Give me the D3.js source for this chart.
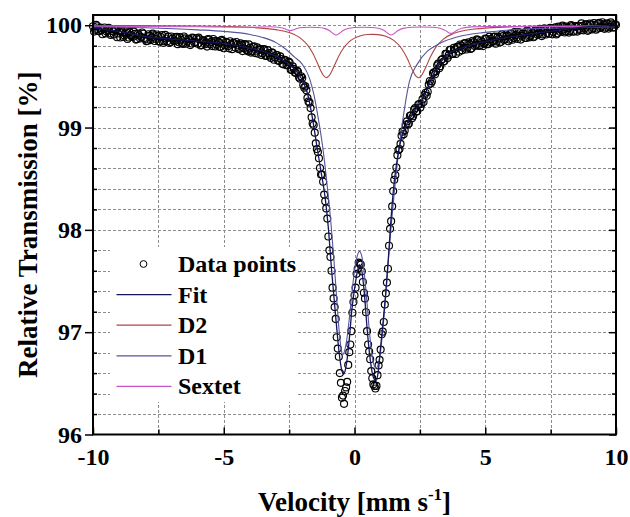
<!DOCTYPE html>
<html><head><meta charset="utf-8">
<script src="https://cdn.jsdelivr.net/npm/d3@7"></script>
<style>body{margin:0;background:#fff}svg{display:block}</style>
</head><body>
<svg id="chart" width="630" height="517"></svg>
<script>
// ---- data ----
// two interleaved channel sets of the unfolded spectrum
const velocityStartA = -10;
const velocityStartB = -9.96;
const velocityStep = 0.08;
const transmissionA = [
99.99,99.956,99.99,99.94,99.954,99.965,99.92,99.95,99.92,99.96,
99.91,99.955,99.92,99.88,99.93,99.90,99.93,99.88,99.905,99.885,
99.916,99.864,99.902,99.885,99.917,99.865,99.848,99.896,99.879,99.902,
99.865,99.893,99.841,99.904,99.847,99.87,99.888,99.836,99.869,99.843,
99.886,99.834,99.858,99.817,99.872,99.84,99.863,99.821,99.873,99.837,
99.82,99.863,99.806,99.844,99.832,99.865,99.813,99.796,99.844,99.812,
99.835,99.788,99.846,99.804,99.831,99.774,99.812,99.829,99.782,99.809,
99.769,99.809,99.774,99.81,99.745,99.78,99.745,99.795,99.751,99.721,
99.766,99.726,99.764,99.701,99.728,99.68,99.727,99.684,
99.709,99.652,99.67,99.618,99.656,99.612,99.635,99.562,99.573,99.534,
99.545,99.477,99.485,99.39,99.365,99.255,99.19,99.04,98.95,98.79,
98.70,98.54,98.47,98.28,98.11,97.80,97.60,97.33,97.13,96.84,
96.60,96.36,96.30,96.46,96.68,96.88,97.19,97.36,97.57,97.68,
97.66,97.49,97.33,97.01,96.81,96.62,96.49,96.45,96.58,96.73,
96.98,97.10,97.38,97.62,98.01,98.23,98.49,98.61,98.78,98.84,
98.96,98.97,99.06,99.04,99.12,99.11,99.19,99.16,99.23,99.23,
99.25,99.34,99.35,99.455,99.45,99.54,99.55,99.625,99.60,99.67,
99.65,99.72,99.705,99.76,99.72,99.765,99.79,99.742,99.801,99.78,
99.825,99.78,99.815,99.775,99.835,99.81,99.854,99.804,99.838,99.818,
99.867,99.816,99.865,99.844,99.888,99.841,99.87,99.839,99.893,99.862,
99.901,99.86,99.918,99.875,99.903,99.866,99.924,99.896,99.919,99.876,
99.939,99.892,99.926,99.89,99.949,99.918,99.952,99.91,99.968,99.925,
99.917,99.965,99.937,99.979,99.921,99.968,99.95,99.982,99.94,99.972,
99.944,99.992,99.939,99.982,99.994,99.951,99.994,99.971,100.009,99.956,
100.008,99.97,100.001,99.967,100.023,99.984,100.01,99.976,100.017,99.983,100.008,99.979,100.005
];
const transmissionB = [
99.938,100.004,99.945,99.976,99.912,99.978,99.939,99.974,99.905,99.941,
99.957,99.883,99.939,99.949,99.885,99.917,99.865,99.933,99.89,99.938,
99.86,99.918,99.871,99.929,99.876,99.844,99.912,99.855,99.918,99.846,
99.909,99.842,99.885,99.828,99.906,99.844,99.827,99.89,99.848,99.882,
99.815,99.884,99.827,99.89,99.819,99.867,99.806,99.879,99.828,99.871,
99.879,99.802,99.855,99.813,99.791,99.859,99.837,99.865,99.793,99.846,
99.789,99.857,99.775,99.838,99.795,99.843,99.766,99.823,99.836,99.767,
99.822,99.747,99.817,99.758,99.813,99.733,99.788,99.728,99.784,99.759,
99.709,99.768,99.70,99.757,99.694,99.736,99.663,99.709,
99.653,99.696,99.624,99.662,99.609,99.644,99.566,99.598,99.539,99.557,
99.489,99.501,99.415,99.403,99.29,99.243,99.10,99.025,98.845,98.76,
98.605,98.54,98.345,98.21,97.935,97.735,97.435,97.245,96.95,96.76,
96.505,96.38,96.425,96.515,96.805,97.01,97.295,97.435,97.62,97.67,
97.595,97.385,97.195,96.88,96.735,96.55,96.475,96.475,96.675,96.83,
97.005,97.27,97.485,97.845,98.085,98.38,98.535,98.73,98.79,98.92,
98.935,99.03,99.03,99.115,99.09,99.175,99.155,99.225,99.195,99.275,
99.32,99.31,99.42,99.43,99.53,99.52,99.608,99.58,99.66,99.643,
99.72,99.68,99.76,99.718,99.78,99.72,99.789,99.812,99.756,99.823,
99.763,99.833,99.768,99.848,99.798,99.862,99.797,99.851,99.796,99.87,
99.814,99.888,99.832,99.886,99.82,99.888,99.832,99.911,99.855,99.894,
99.843,99.917,99.859,99.932,99.88,99.933,99.86,99.923,99.875,99.948,
99.881,99.954,99.883,99.952,99.906,99.965,99.894,99.967,99.909,99.961,
99.974,99.911,99.968,99.91,99.987,99.934,99.996,99.929,99.986,99.928,
100.001,99.938,99.991,99.938,99.965,100.018,99.95,100.008,99.945,100.017,
99.959,100.02,99.956,100.017,99.973,100.029,99.965,100.016,99.967,100.028,99.978,100.009
];

const fitVelocity = [-10,-9,-8,-7,-6,-5,-4.5,-4,-3.5,-3,-2.6,-2.2,-2.0,-1.8,-1.6,-1.44,-1.28,-1.12,-1.0,-0.88,
-0.76,-0.64,-0.56,-0.48,-0.42,-0.36,-0.28,-0.2,-0.1,0,0.1,0.19,0.28,0.38,0.48,0.58,0.68,0.76,0.83,0.9,
1.0,1.1,1.2,1.3,1.4,1.52,1.64,1.76,1.9,2.05,2.2,2.4,2.6,2.8,3.0,3.3,3.6,4.0,4.5,5,6,7,8,9,10];
const fitValues = [99.975,99.94,99.89,99.865,99.845,99.82,99.80,99.775,99.745,99.695,99.635,99.545,99.465,99.335,99.08,98.82,98.57,98.31,98.02,97.62,
97.27,96.93,96.74,96.62,96.59,96.62,96.74,96.93,97.22,97.42,97.58,97.66,97.60,97.37,97.04,96.78,96.60,96.54,96.53,96.60,
96.86,97.12,97.40,97.74,98.12,98.47,98.70,98.86,98.98,99.06,99.12,99.20,99.27,99.39,99.51,99.64,99.72,99.77,99.81,99.84,99.888,99.925,99.957,99.985,100.0];

const d1Velocity = [-10,-8,-6,-5,-4,-3.5,-3,-2.6,-2.3,-2.0,-1.72,-1.55,-1.36,-1.2,-1.04,-0.89,-0.8,-0.7,-0.6,-0.5,
-0.45,-0.4,-0.3,-0.2,-0.1,0,0.1,0.19,0.28,0.38,0.48,0.58,0.68,0.76,0.83,0.9,1.0,1.1,1.2,1.3,
1.4,1.53,1.65,1.85,2.1,2.4,2.8,3.1,3.5,4,5,6,8,10];
const d1Values = [99.985,99.975,99.955,99.94,99.91,99.88,99.83,99.76,99.69,99.62,99.48,99.32,99.05,98.78,98.42,98.03,97.75,97.40,97.05,96.82,
96.78,96.80,96.92,97.13,97.38,97.60,97.74,97.79,97.74,97.56,97.28,96.98,96.76,96.67,96.65,96.68,96.82,97.07,97.38,97.72,
98.03,98.39,98.68,99.08,99.45,99.62,99.75,99.80,99.85,99.89,99.93,99.955,99.975,99.985];

const d2Velocity = [-10,-6,-4,-3,-2.5,-2.2,-2.0,-1.8,-1.6,-1.45,-1.3,-1.2,-1.08,-0.96,-0.86,-0.7,-0.5,-0.2,0.2,0.5,
0.7,0.9,1.2,1.5,1.8,2.0,2.2,2.35,2.45,2.55,2.7,2.9,3.1,3.4,3.8,4.5,6,8,10];
const d2Values = [99.997,99.992,99.979,99.957,99.929,99.896,99.86,99.808,99.728,99.648,99.56,99.514,99.488,99.51,99.555,99.646,99.746,99.839,99.894,99.909,
99.911,99.908,99.892,99.852,99.773,99.684,99.571,99.502,99.487,99.504,99.574,99.689,99.781,99.865,99.921,99.96,99.984,99.992,99.995];

const sextetVelocity = [-10,-6,-4,-3.2,-2.9,-2.7,-2.55,-2.45,-2.35,-2.2,-2.0,-1.7,-1.4,-1.15,-0.95,-0.82,-0.7,-0.58,-0.45,-0.25,
0,0.35,0.7,0.95,1.15,1.28,1.40,1.52,1.65,1.85,2.2,2.6,3.0,3.3,3.5,3.6,3.69,3.78,3.9,4.1,4.5,5,6,8,10];
const sextetValues = [99.988,99.985,99.98,99.985,99.98,99.969,99.954,99.948,99.954,99.968,99.978,99.981,99.978,99.969,99.946,99.92,99.904,99.92,99.946,99.968,
99.978,99.981,99.978,99.968,99.946,99.92,99.904,99.92,99.946,99.969,99.98,99.983,99.98,99.969,99.945,99.927,99.92,99.928,99.949,99.971,99.984,99.987,99.988,99.989,99.99];

const xTickValues = [-10,-5,0,5,10];
const xMinorTickValues = [-7.5,-2.5,2.5,7.5];
const yTickValues = [96,97,98,99,100];
const legendLabels = ["Data points","Fit","D2","D1","Sextet"];

// ---- drawing ----
const colors = {fit:"#15155c", d2:"#b04545", d1:"#55559c", sextet:"#c855c8"};
const svg = d3.select("#chart");
const L = 93, R = 616, T = 15, B = 434.5;
const x = d3.scaleLinear().domain([-10,10]).range([L,R]);
const y = d3.scaleLinear().domain([96,100.1]).range([B,T]);
const font = "'Liberation Serif','Times New Roman',serif";
const plain = d => String(d);

svg.append("rect").attr("width",630).attr("height",517).attr("fill","#fff");

// grid
const yGrid = d3.range(1,21).map(k => +(96 + k*0.2).toFixed(1));
const grid = svg.append("g").attr("stroke","#8c8c8c").attr("stroke-width",1).attr("stroke-dasharray","3,2");
grid.selectAll(".gy").data(yGrid).join("line")
  .attr("x1",L).attr("x2",R).attr("y1",d=>Math.round(y(d))+0.5).attr("y2",d=>Math.round(y(d))+0.5);
grid.selectAll(".gx").data(xMinorTickValues.concat([-5,0,5])).join("line")
  .attr("y1",T).attr("y2",B).attr("x1",d=>Math.round(x(d))+0.5).attr("x2",d=>Math.round(x(d))+0.5);

// legend background
svg.append("rect").attr("x",110).attr("y",247).attr("width",188).attr("height",155).attr("fill","#fff");

// data points
const pts = transmissionA.map((t,i)=>({v: velocityStartA + i*velocityStep, t}))
  .concat(transmissionB.map((t,i)=>({v: velocityStartB + i*velocityStep, t})));
svg.append("g").selectAll("circle").data(pts).join("circle")
  .attr("cx",d=>x(d.v)).attr("cy",d=>y(d.t)).attr("r",3.5)
  .attr("fill","none").attr("stroke","#000").attr("stroke-width",1.15);

// lines
const line = d3.line().x(d=>x(d[0])).y(d=>y(d[1])).curve(d3.curveMonotoneX);
function drawLine(vs, ts, color, w){
  svg.append("path").datum(vs.map((v,i)=>[v,ts[i]])).attr("d",line)
    .attr("fill","none").attr("stroke",color).attr("stroke-width",w);
}
drawLine(d2Velocity, d2Values, colors.d2, 1.1);
drawLine(sextetVelocity, sextetValues, colors.sextet, 1.1);
drawLine(d1Velocity, d1Values, colors.d1, 1.1);
drawLine(fitVelocity, fitValues, colors.fit, 1.3);

// axes
function styleAxis(g){ g.select(".domain").remove(); g.selectAll("line").attr("stroke","#000").attr("stroke-width",1.5);
  g.selectAll("text").attr("font-family",font).attr("font-weight","bold").attr("font-size",24).attr("fill","#000"); }
const yMinor = yGrid.filter(d=>Math.abs(d-Math.round(d))>0.01);
svg.append("g").attr("transform",`translate(${L},0)`)
  .call(d3.axisLeft(y).tickValues(yTickValues).tickFormat(plain).tickSize(8).tickPadding(3)).call(styleAxis);
svg.append("g").attr("transform",`translate(${L},0)`)
  .call(d3.axisLeft(y).tickValues(yMinor).tickFormat("").tickSize(-4)).call(styleAxis);
svg.append("g").attr("transform",`translate(${R},0)`)
  .call(d3.axisRight(y).tickValues(yTickValues).tickFormat("").tickSize(-7)).call(styleAxis);
svg.append("g").attr("transform",`translate(${R},0)`)
  .call(d3.axisRight(y).tickValues(yMinor).tickFormat("").tickSize(-4)).call(styleAxis);
svg.append("g").attr("transform",`translate(0,${B})`)
  .call(d3.axisBottom(x).tickValues(xTickValues).tickFormat(plain).tickSize(-7).tickPadding(13)).call(styleAxis);
svg.append("g").attr("transform",`translate(0,${B})`)
  .call(d3.axisBottom(x).tickValues(xMinorTickValues).tickFormat("").tickSize(-5)).call(styleAxis);
svg.append("g").attr("transform",`translate(0,${T})`)
  .call(d3.axisTop(x).tickValues(xTickValues).tickFormat("").tickSize(-7)).call(styleAxis);
svg.append("g").attr("transform",`translate(0,${T})`)
  .call(d3.axisTop(x).tickValues(xMinorTickValues).tickFormat("").tickSize(-5)).call(styleAxis);

// frame
svg.append("rect").attr("x",L).attr("y",T).attr("width",R-L).attr("height",B-T)
  .attr("fill","none").attr("stroke","#000").attr("stroke-width",2);

// titles
svg.append("text").attr("transform",`translate(37,${(T+B)/2}) rotate(-90)`).attr("text-anchor","middle")
  .attr("font-family",font).attr("font-weight","bold").attr("font-size",27).text("Relative Transmission [%]");
const xt = svg.append("text").attr("x",(L+R)/2).attr("y",511).attr("text-anchor","middle")
  .attr("font-family",font).attr("font-weight","bold").attr("font-size",27);
xt.append("tspan").text("Velocity [mm s");
xt.append("tspan").attr("font-size",17).attr("dy",-11).text("-1");
xt.append("tspan").attr("dy",11).text("]");

// legend
const lg = svg.append("g").attr("font-family",font).attr("font-weight","bold").attr("font-size",24);
const legendColors = [null, colors.fit, colors.d2, colors.d1, colors.sextet];
legendLabels.forEach((lab,i)=>{
  const yy = 264 + i*30.6;
  if(i===0){
    lg.append("circle").attr("cx",143.5).attr("cy",yy).attr("r",3.4).attr("fill","none").attr("stroke","#000").attr("stroke-width",1);
  } else {
    lg.append("line").attr("x1",116.5).attr("x2",171.5).attr("y1",yy).attr("y2",yy).attr("stroke",legendColors[i]).attr("stroke-width",1.2);
  }
  lg.append("text").attr("x",178).attr("y",yy+8).text(lab);
});
</script>
</body></html>
